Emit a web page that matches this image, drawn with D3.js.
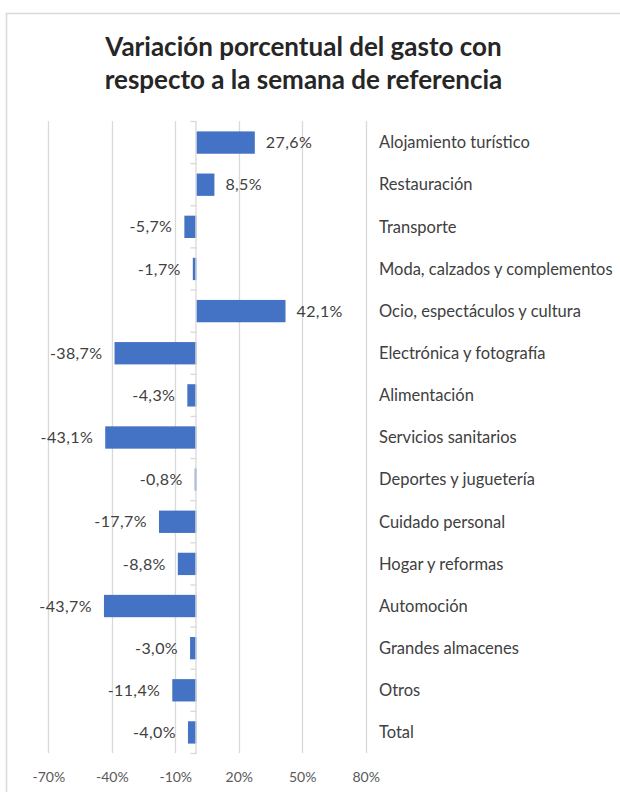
<!DOCTYPE html>
<html><head><meta charset="utf-8">
<script src="https://cdn.jsdelivr.net/npm/d3@7"></script>
<style>body{margin:0;background:#fff}svg{display:block}</style>
</head><body>
<svg id="c" width="620" height="792"></svg>
<script>
const titleLines = ["Variación porcentual del gasto con", "respecto a la semana de referencia"];
const categories = ["Alojamiento turístico","Restauración","Transporte","Moda, calzados y complementos","Ocio, espectáculos y cultura","Electrónica y fotografía","Alimentación","Servicios sanitarios","Deportes y juguetería","Cuidado personal","Hogar y reformas","Automoción","Grandes almacenes","Otros","Total"];
const values = [27.6, 8.5, -5.7, -1.7, 42.1, -38.7, -4.3, -43.1, -0.8, -17.7, -8.8, -43.7, -3.0, -11.4, -4.0];
const tickValues = [-70, -40, -10, 20, 50, 80];

const svg = d3.select("#c");
const font = "Lato, 'Open Sans', sans-serif";

svg.append("rect").attr("x",6.5).attr("y",13.5).attr("width",700).attr("height",800)
  .attr("fill","#fff").attr("stroke","#d9d9d9").attr("stroke-width",1.5);

svg.selectAll("text.title").data(titleLines).join("text").attr("class","title")
  .attr("x",303.5).attr("y",(d,i)=>56+i*33).attr("text-anchor","middle")
  .attr("font-family",font).attr("font-weight","bold").attr("font-size",26).attr("fill","#262626")
  .text(d=>d);

const x = d3.scaleLinear().domain([-70,80]).range([48.3,365.7]);
const y = d3.scaleBand().domain(categories).range([121.5,753.5]).paddingInner(0.47).paddingOuter(0.235);

// gridlines
svg.append("g").selectAll("line").data(tickValues).join("line")
  .attr("x1",d=>Math.round(x(d))+0.5).attr("x2",d=>Math.round(x(d))+0.5)
  .attr("y1",121).attr("y2",753).attr("stroke","#d9d9d9").attr("stroke-width",1.3);

// x axis labels
const xAxis = d3.axisBottom(x).tickValues(tickValues).tickSize(0).tickFormat(d=>d+"%");
const gx = svg.append("g").attr("transform","translate(0,769)").call(xAxis);
gx.select(".domain").remove();
gx.selectAll("text").attr("font-family",font).attr("font-size",14).attr("fill","#595959").attr("dy","0.71em");

// bars
svg.append("g").selectAll("rect").data(values).join("rect")
  .attr("x",d=>x(Math.min(0,d))).attr("width",d=>Math.abs(x(d)-x(0)))
  .attr("y",(d,i)=>y(categories[i])).attr("height",y.bandwidth())
  .attr("fill","#4472c4");

// vertical axis at zero with ticks
const step = y.step();
const boundaries = d3.range(categories.length+1).map(i=>121.5+i*step);
const ga = svg.append("g");
ga.append("line").attr("x1",x(0)-0.5).attr("x2",x(0)-0.5).attr("y1",121).attr("y2",754)
  .attr("stroke","#d9d9d9").attr("stroke-width",1.3);
ga.selectAll("line.t").data(boundaries).join("line").attr("class","t")
  .attr("x1",x(0)-6).attr("x2",x(0)).attr("y1",d=>d).attr("y2",d=>d)
  .attr("stroke","#d9d9d9").attr("stroke-width",1.3);

// value labels
svg.append("g").selectAll("text").data(values).join("text")
  .attr("x",d=>d>=0 ? x(d)+11 : x(d)-12)
  .attr("y",(d,i)=>y(categories[i])+y.bandwidth()/2).attr("dy","0.35em")
  .attr("text-anchor",d=>d>=0?"start":"end")
  .attr("font-family",font).attr("font-size",16).attr("letter-spacing",0.4).attr("fill","#404040")
  .text(d=>d3.format(".1f")(d).replace(".",",").replace("−","-")+"%");

// category labels
svg.append("g").selectAll("text").data(categories).join("text")
  .attr("x",379).attr("y",d=>y(d)+y.bandwidth()/2).attr("dy","0.35em")
  .attr("font-family",font).attr("font-size",16.5).attr("fill","#404040")
  .text(d=>d);
</script>
</body></html>
